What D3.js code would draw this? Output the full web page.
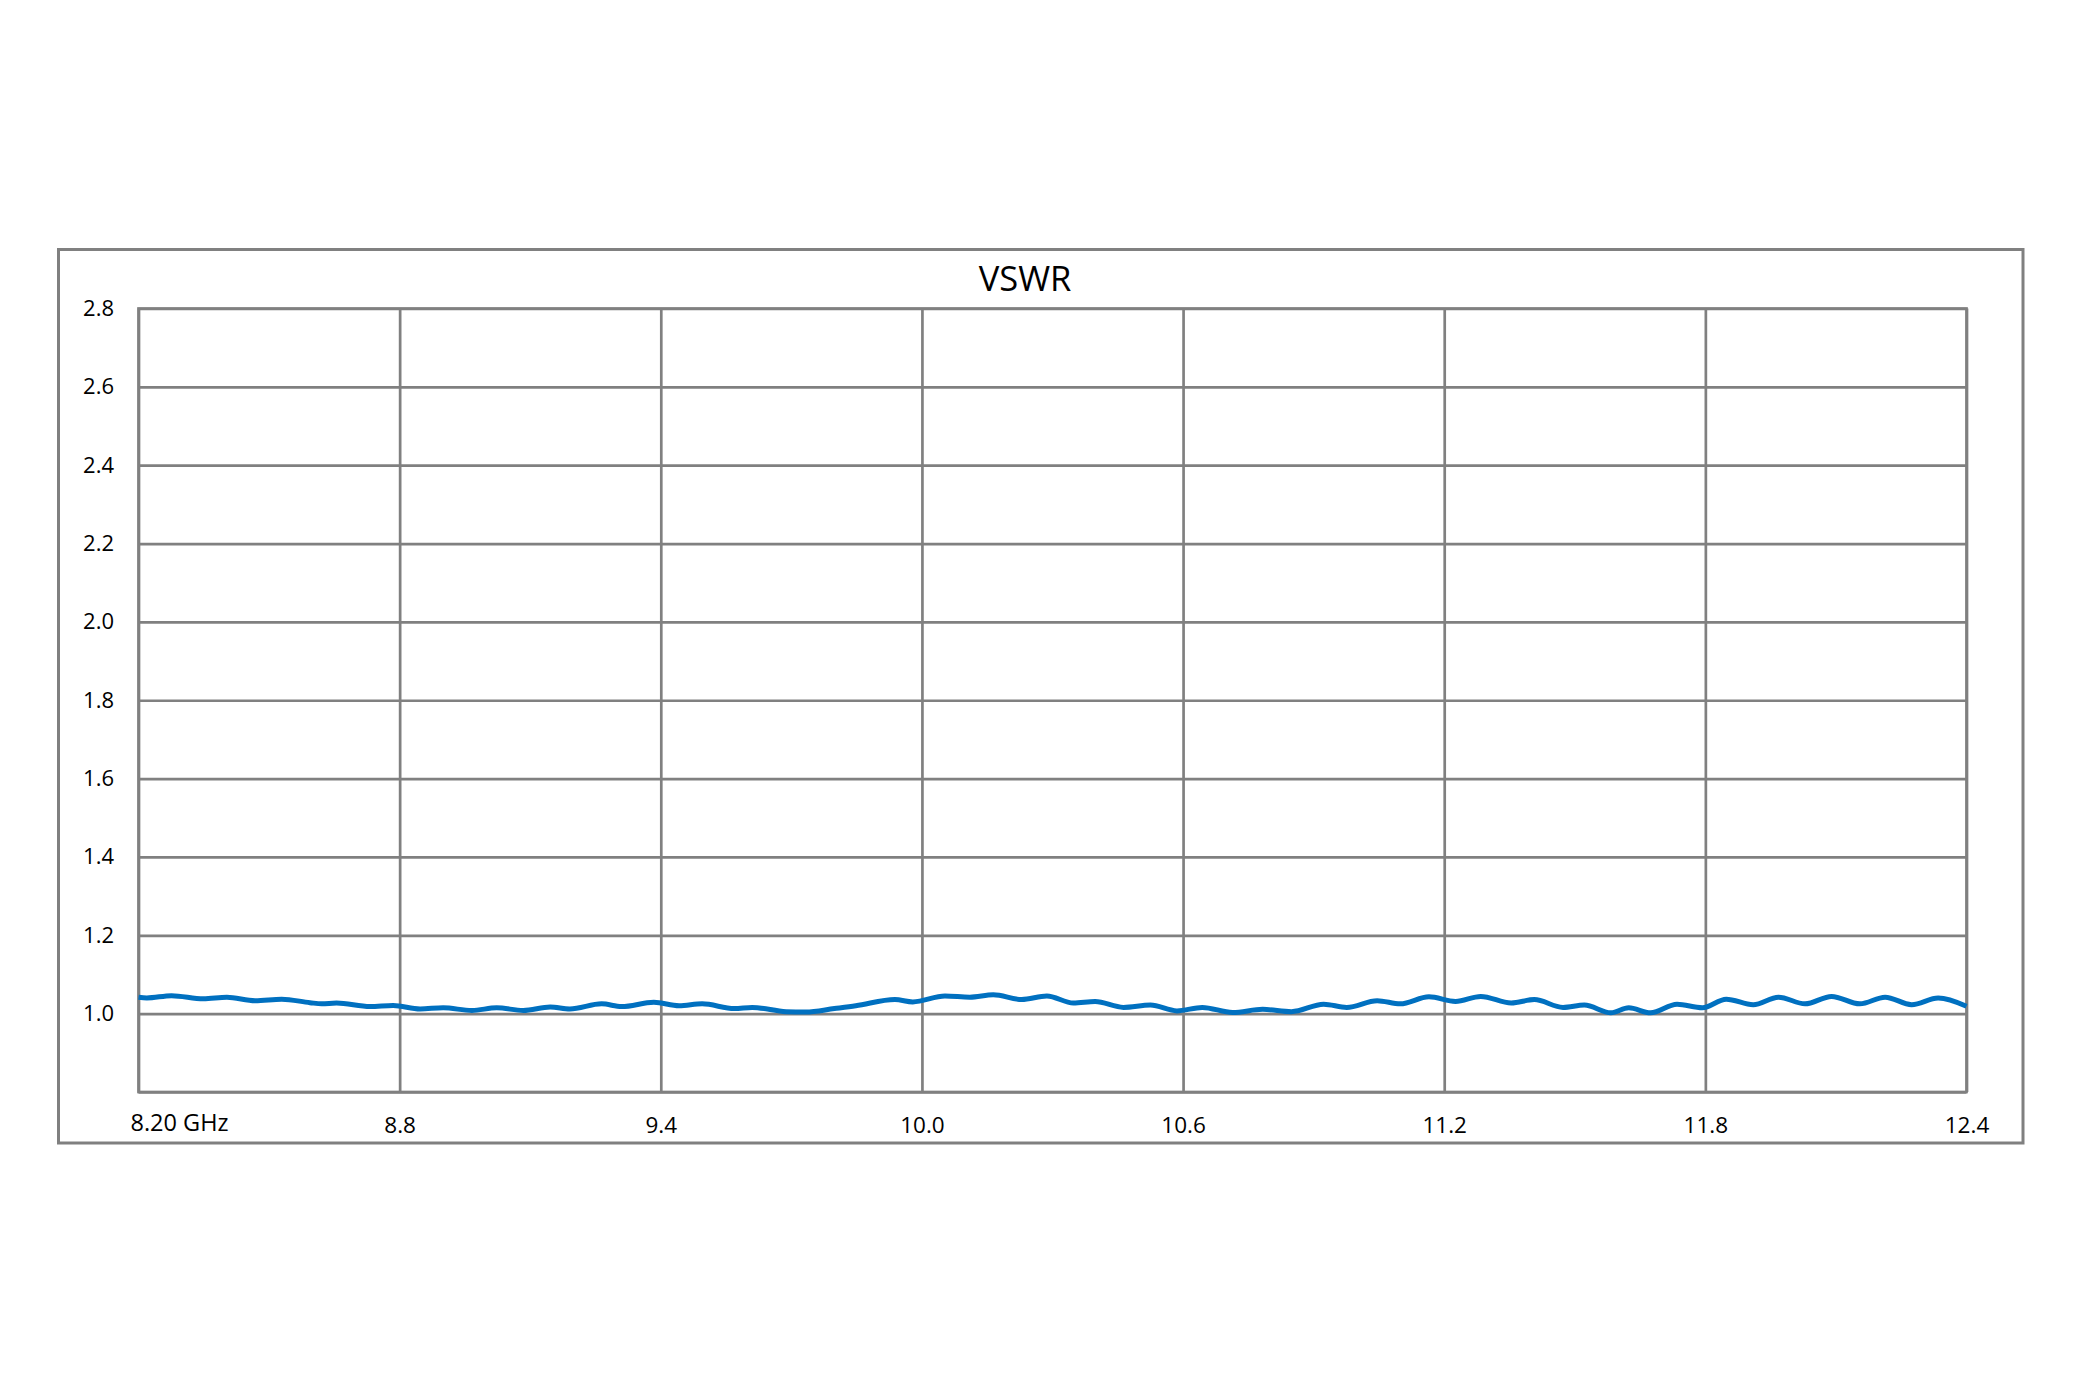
<!DOCTYPE html>
<html><head><meta charset="utf-8">
<script src="https://cdn.jsdelivr.net/npm/d3@7"></script>
<style>html,body{margin:0;padding:0;background:#fff}svg{display:block}</style>
</head><body><svg id="c" width="2083" height="1389"></svg>
<script>
const title = "VSWR";
const freqGHz = [8.200,8.219,8.276,8.349,8.403,8.468,8.529,8.594,8.621,8.655,8.732,8.785,8.847,8.900,8.966,9.023,9.084,9.146,9.191,9.264,9.310,9.384,9.442,9.495,9.569,9.610,9.688,9.733,9.799,9.848,9.938,9.979,10.053,10.110,10.164,10.229,10.287,10.348,10.398,10.463,10.525,10.586,10.644,10.714,10.783,10.849,10.923,10.976,11.046,11.099,11.165,11.226,11.284,11.354,11.407,11.473,11.522,11.583,11.624,11.674,11.735,11.793,11.848,11.910,11.968,12.029,12.090,12.155,12.213,12.274,12.335,12.400];
const vswr = [1.042,1.040,1.046,1.038,1.042,1.033,1.037,1.028,1.025,1.027,1.018,1.021,1.012,1.015,1.008,1.015,1.008,1.017,1.012,1.025,1.018,1.029,1.020,1.025,1.013,1.016,1.005,1.004,1.013,1.020,1.036,1.030,1.045,1.042,1.048,1.036,1.045,1.027,1.031,1.016,1.022,1.007,1.016,1.003,1.011,1.005,1.024,1.016,1.033,1.025,1.043,1.031,1.044,1.027,1.036,1.016,1.022,1.002,1.015,1.002,1.024,1.015,1.037,1.023,1.042,1.025,1.044,1.025,1.042,1.023,1.040,1.019];
const xTicks = [8.2,8.8,9.4,10.0,10.6,11.2,11.8,12.4];
const xTickLabels = ["8.20 GHz","8.8","9.4","10.0","10.6","11.2","11.8","12.4"];
const yTicks = [0.8,1.0,1.2,1.4,1.6,1.8,2.0,2.2,2.4,2.6,2.8];
const yTickLabels = ["","1.0","1.2","1.4","1.6","1.8","2.0","2.2","2.4","2.6","2.8"];

const svg = d3.select("#c");
const FONT = "'Open Sans', 'Noto Sans', sans-serif";
const GRID = "#808080";
const m = {l:138.5, r:1966.5, t:308.5, b:1092};
const x = d3.scaleLinear().domain([8.2,12.4]).range([m.l,m.r]);
const y = d3.scaleLinear().domain([0.8,2.8]).range([m.b,m.t]);

svg.append("rect").attr("x",58.5).attr("y",249.5).attr("width",1964.5).attr("height",893.5)
  .attr("fill","none").attr("stroke",GRID).attr("stroke-width",3);

const gx = svg.append("g").attr("transform",`translate(0,${m.b})`)
  .call(d3.axisBottom(x).tickValues(xTicks).tickSize(-(m.b-m.t)).tickFormat((d,i)=>xTickLabels[i]));
gx.select(".domain").remove();
gx.selectAll(".tick line").attr("stroke",GRID).attr("stroke-width",2.7);
gx.selectAll(".tick text").attr("font-family",FONT).attr("font-size",22.5).attr("fill","#000")
  .attr("dy",null).attr("y",41);
gx.selectAll(".tick text").filter((d,i)=>i===0).attr("text-anchor","start").attr("x",-8.5).attr("y",39)
  .attr("font-size",23.5);

const gy = svg.append("g").attr("transform",`translate(${m.l},0)`)
  .call(d3.axisLeft(y).tickValues(yTicks).tickSize(-(m.r-m.l)).tickFormat((d,i)=>yTickLabels[i]));
gy.select(".domain").remove();
gy.selectAll(".tick line").attr("stroke",GRID).attr("stroke-width",2.7);
gy.selectAll(".tick text").attr("font-family",FONT).attr("font-size",22).attr("fill","#000")
  .attr("x",-24.5);

svg.append("rect").attr("x",m.l).attr("y",m.t).attr("width",m.r-m.l).attr("height",m.b-m.t)
  .attr("fill","none").attr("stroke",GRID).attr("stroke-width",2.7);

const data = freqGHz.map((f,i)=>({f, v:vswr[i]}));
svg.append("path").datum(data)
  .attr("d", d3.line().x(d=>x(d.f)).y(d=>y(d.v)).curve(d3.curveMonotoneX))
  .attr("fill","none").attr("stroke","#0070C0").attr("stroke-width",5)
  .attr("stroke-linejoin","round").attr("stroke-linecap","butt");

svg.append("text").attr("x",1025).attr("y",290.5).attr("text-anchor","middle")
  .attr("font-family",FONT).attr("font-size",34.5).attr("fill","#000").text(title);
</script></body></html>
